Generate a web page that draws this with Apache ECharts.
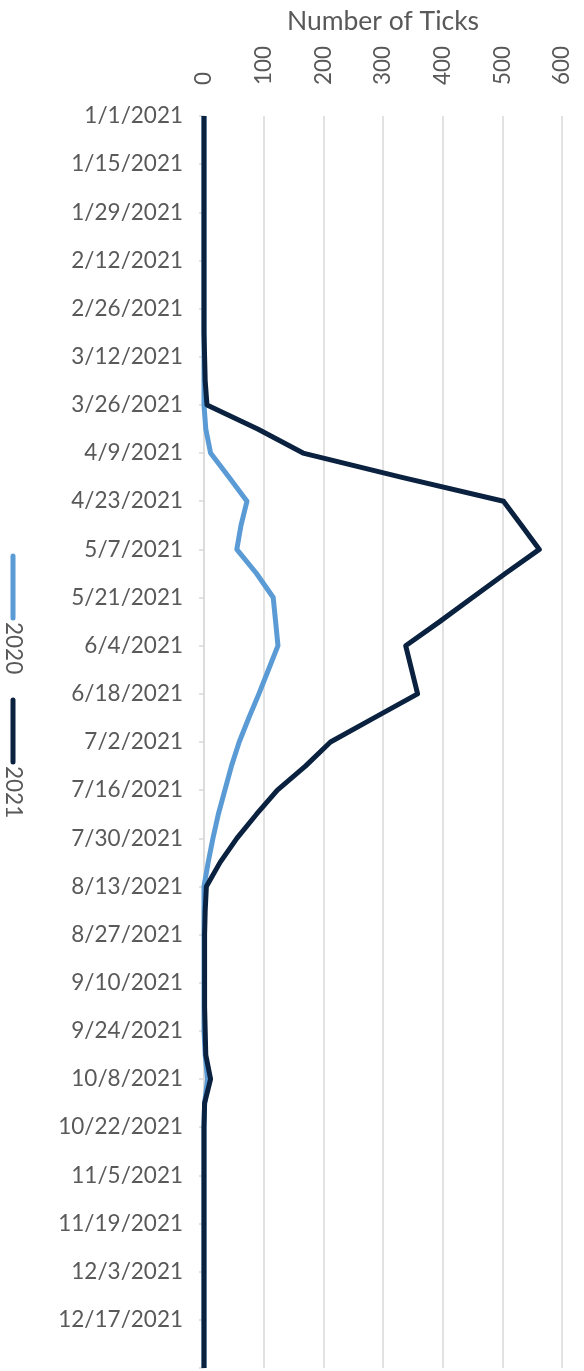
<!DOCTYPE html>
<html>
<head>
<meta charset="utf-8">
<script src="https://cdn.jsdelivr.net/npm/echarts@6/dist/echarts.min.js"></script>
<style>
  html, body { margin: 0; padding: 0; background: #fff; }
  #chart { width: 584px; height: 1371px; }
</style>
</head>
<body>
<div id="chart"></div>
<script>
// weekly dates (labels shown every other week)
const weeks = [
  '1/1/2021', '1/8/2021', '1/15/2021', '1/22/2021', '1/29/2021', '2/5/2021', '2/12/2021',
  '2/19/2021', '2/26/2021', '3/5/2021', '3/12/2021', '3/19/2021', '3/26/2021', '4/2/2021',
  '4/9/2021', '4/16/2021', '4/23/2021', '4/30/2021', '5/7/2021', '5/14/2021', '5/21/2021',
  '5/28/2021', '6/4/2021', '6/11/2021', '6/18/2021', '6/25/2021', '7/2/2021', '7/9/2021',
  '7/16/2021', '7/23/2021', '7/30/2021', '8/6/2021', '8/13/2021', '8/20/2021', '8/27/2021',
  '9/3/2021', '9/10/2021', '9/17/2021', '9/24/2021', '10/1/2021', '10/8/2021', '10/15/2021',
  '10/22/2021', '10/29/2021', '11/5/2021', '11/12/2021', '11/19/2021', '11/26/2021', '12/3/2021',
  '12/10/2021', '12/17/2021', '12/24/2021', '12/31/2021'
];

const ticks2020 = [
  0, 0, 0, 0, 0, 0, 0, 0, 0, 0, 0, 0, 0, 3,
  11, 42, 72, 62, 55, 88, 116, 120, 124, 108, 92, 75, 59, 46,
  35, 24, 15, 7, 0, 0, 0, 0, 0, 0, 0, 2, 6, 1,
  0, 0, 0, 0, 0, 0, 0, 0, 0, 0, 0
];

const ticks2021 = [
  0, 0, 0, 0, 0, 0, 0, 0, 0, 0, 1, 2, 5, 90,
  166, 330, 502, 532, 562, 505, 450, 395, 338, 348, 358, 285, 212, 170,
  123, 88, 55, 27, 4, 2, 1, 1, 1, 1, 2, 3, 11, 1,
  0, 0, 0, 0, 0, 0, 0, 0, 0, 0, 0
];

const seriesNames = ['2020', '2021'];
const seriesColors = ['#5B9BD5', '#0A2240'];
const valueTicks = [0, 600, 100]; // min, max, interval

const FONT = 'Lato, "Open Sans", sans-serif';
const TEXT = '#595959';
const LABEL_SIZE = 22.5;

const chart = echarts.init(document.getElementById('chart'), null, { renderer: 'canvas' });

// legend drawn as rotated items (Excel text direction)
const legendTop = [556, 700];
const legendGraphic = seriesNames.map((name, i) => ({
  type: 'group',
  children: [
    {
      type: 'line',
      shape: { x1: 13, y1: legendTop[i], x2: 13, y2: legendTop[i] + 62 },
      style: { stroke: seriesColors[i], lineWidth: 5, lineCap: 'round' }
    },
    {
      type: 'text',
      x: 13,
      y: legendTop[i] + 66,
      rotation: -Math.PI / 2,
      style: {
        text: name,
        fill: TEXT,
        font: LABEL_SIZE + 'px ' + FONT,
        align: 'left',
        verticalAlign: 'middle'
      }
    }
  ]
}));

chart.setOption({
  animation: false,
  backgroundColor: '#fff',
  grid: { left: 204, right: 22, top: 116, bottom: 3, containLabel: false },
  xAxis: {
    type: 'value',
    position: 'top',
    min: valueTicks[0],
    max: valueTicks[1],
    interval: valueTicks[2],
    name: 'Number of Ticks',
    nameLocation: 'middle',
    nameGap: 81,
    nameTextStyle: { color: TEXT, fontSize: 26.5, fontFamily: FONT },
    axisLine: { show: false },
    axisTick: { show: false },
    axisLabel: {
      rotate: -90,
      margin: 31,
      color: TEXT,
      fontSize: LABEL_SIZE,
      fontFamily: FONT
    },
    splitLine: { lineStyle: { color: '#D9D9D9', width: 1.5 } }
  },
  yAxis: {
    type: 'category',
    inverse: true,
    boundaryGap: false,
    data: weeks,
    axisLine: { show: true, lineStyle: { color: '#D9D9D9', width: 1.5 } },
    axisTick: {
      show: true,
      length: 5,
      interval: (i) => i % 2 === 0,
      lineStyle: { color: '#D9D9D9', width: 1.5 }
    },
    axisLabel: {
      interval: (i) => i % 2 === 0 && i < weeks.length - 1,
      margin: 21,
      color: TEXT,
      fontSize: LABEL_SIZE,
      fontFamily: FONT
    },
    splitLine: { show: false }
  },
  series: seriesNames.map((name, i) => ({
    name,
    type: 'line',
    data: i === 0 ? ticks2020 : ticks2021,
    showSymbol: false,
    symbol: 'none',
    lineStyle: { color: seriesColors[i], width: 5, join: 'round' },
    itemStyle: { color: seriesColors[i] }
  })),
  graphic: legendGraphic
});
</script>
</body>
</html>
